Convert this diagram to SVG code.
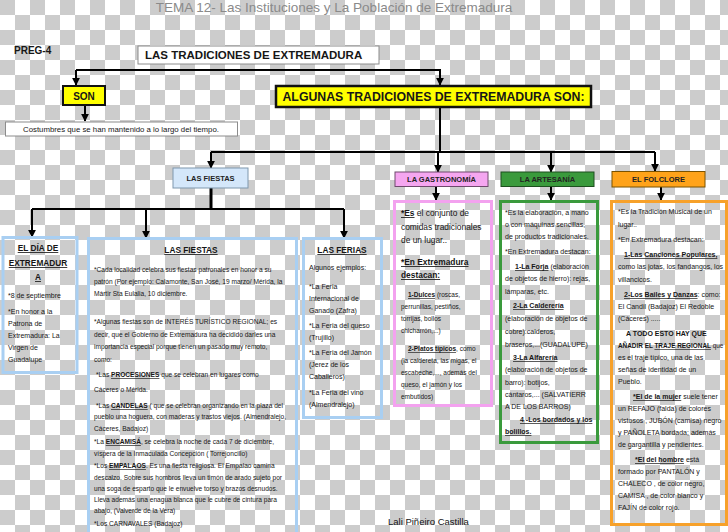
<svg xmlns="http://www.w3.org/2000/svg" width="728" height="532" viewBox="0 0 728 532">
<style>
.t{font-family:"Liberation Sans",Arial,sans-serif;fill:#161616}
.b{font-weight:bold}
.u{text-decoration:underline}
.ln{stroke:#000;stroke-width:2;fill:none}
.s66{font-size:6.6px}
.s7{font-size:7px}
.lb{stroke:#a9cff2;stroke-width:3;fill:none}
.lbl{font-family:"Liberation Sans",Arial,sans-serif;font-weight:bold;font-size:7.5px;fill:#222;text-anchor:middle}
</style>
<defs>
<marker id="ah" viewBox="0 0 10 10" refX="9" refY="5" markerWidth="4" markerHeight="4" orient="auto"><path d="M0,0L10,5L0,10z" fill="#000"/></marker>
<pattern id="chk" width="30" height="30" patternUnits="userSpaceOnUse"><rect width="30" height="30" fill="#fff"/><rect width="15" height="15" fill="#cccccc"/><rect x="15" y="15" width="15" height="15" fill="#cccccc"/></pattern>
</defs>
<rect width="728" height="532" fill="url(#chk)"/>

<text class="t" x="334" y="12" font-size="13.5" style="fill:#8a8a8a" text-anchor="middle">TEMA 12- Las Instituciones y La Población de Extremadura</text>
<text class="t b" x="14" y="54" font-size="10">PREG-4</text>

<g id="connectors">
<path class="ln" d="M76,70 H441"/>
<path class="ln" d="M76,70 V85" marker-end="url(#ah)"/>
<path class="ln" d="M440,70 V85" marker-end="url(#ah)"/>
<path class="ln" d="M85,105 V121" marker-end="url(#ah)"/>
<path class="ln" d="M440,107 V152"/>
<path class="ln" d="M211,152 H655"/>
<path class="ln" d="M211,152 V168" marker-end="url(#ah)"/>
<path class="ln" d="M438,152 V172" marker-end="url(#ah)"/>
<path class="ln" d="M551,152 V172" marker-end="url(#ah)"/>
<path class="ln" d="M655,152 V171" marker-end="url(#ah)"/>
<path class="ln" d="M211,188 V209" style="stroke-width:3"/>
<path class="ln" d="M32,209 H344"/>
<path class="ln" d="M32,209 V237" marker-end="url(#ah)"/>
<path class="ln" d="M146,209 V238" marker-end="url(#ah)"/>
<path class="ln" d="M344,209 V238" marker-end="url(#ah)"/>
<path class="ln" d="M436,187 V200" marker-end="url(#ah)"/>
<path class="ln" d="M551,187 V200" marker-end="url(#ah)"/>
<path class="ln" d="M661,187 V200" marker-end="url(#ah)"/>
</g>

<g id="tradiciones">
<rect x="138" y="46" width="241" height="18" fill="#fff" stroke="#8c8c8c" stroke-width="1"/>
<text class="t b" x="145" y="59" font-size="11.5">LAS TRADICIONES DE EXTREMADURA</text>
</g>

<g id="son">
<rect x="63" y="86" width="42" height="19" fill="#ffff00" stroke="#111" stroke-width="2"/>
<text class="t b" x="84" y="99.5" font-size="10" text-anchor="middle">SON</text>
</g>

<g id="algunas">
<rect x="276" y="86" width="315" height="21" fill="#ffff00" stroke="#111" stroke-width="2.5"/>
<text class="t b" x="433.5" y="101" font-size="12.5" text-anchor="middle" textLength="302" lengthAdjust="spacingAndGlyphs">ALGUNAS TRADICIONES DE EXTREMADURA SON:</text>
</g>

<g id="costumbres">
<rect x="5.5" y="122" width="232" height="14" fill="#fff" stroke="#8c8c8c" stroke-width="1"/>
<text class="t" x="121" y="132" font-size="7.8" text-anchor="middle">Costumbres que se han mantenido a lo largo del tiempo.</text>
</g>

<g id="lasfiestas-label">
<rect x="173" y="168" width="75" height="20" fill="#d4e7fa" stroke="#7f97ad" stroke-width="1"/>
<text class="lbl" x="210.5" y="181">LAS FIESTAS</text>
</g>

<g id="gastronomia-label">
<rect x="395" y="172" width="93" height="14.5" fill="#f5a6f0" stroke="#6e4a6c" stroke-width="1"/>
<text class="lbl" x="441.5" y="182">LA GASTRONOMÍA</text>
</g>

<g id="artesania-label">
<rect x="501" y="172" width="93" height="14.5" fill="#3a9a3c" stroke="#1d4f1e" stroke-width="1"/>
<text class="lbl" x="547.5" y="182">LA ARTESANÍA</text>
</g>

<g id="folclore-label">
<rect x="612" y="171.5" width="93" height="15.5" fill="#ffa31a" stroke="#7a5200" stroke-width="1"/>
<text class="lbl" x="658.5" y="182">EL FOLCLORE</text>
</g>

<g id="dia-extremadura">
<rect class="lb" x="3" y="237.5" width="74" height="135"/>
<text class="t b" text-anchor="middle" font-size="8.3"><tspan class="u" x="38" y="251">EL DÍA DE</tspan><tspan class="u" x="38" y="266">EXTREMADUR</tspan><tspan class="u" x="38" y="280">A</tspan></text>
<text class="t s7"><tspan x="8" y="298">*8 de septiembre</tspan><tspan x="8" y="314">*En honor a la</tspan><tspan x="8" y="326">Patrona de</tspan><tspan x="8" y="338">Extremadura: La</tspan><tspan x="8" y="350">Virgen de</tspan><tspan x="8" y="362">Guadalupe</tspan></text>
</g>

<g id="fiestas">
<rect class="lb" x="88.5" y="238.5" width="208" height="296"/>
<text class="t b u" x="191" y="253" font-size="8.3" text-anchor="middle">LAS FIESTAS</text>
<text class="t s66">
<tspan x="94" y="272">*Cada localidad celebra sus fiestas patronales en honor a su</tspan>
<tspan x="94" y="284">patrón (Por ejemplo: Calamonte, San José, 19 marzo/ Mérida, la</tspan>
<tspan x="94" y="296">Mártir Sta Eulalia,  10 diciembre.</tspan>
<tspan x="94" y="324">*Algunas fiestas  son de  INTERÉS TURÍSTICO REGIONAL; es</tspan>
<tspan x="94" y="337">decir, que el Gobierno de Extremadura ha decidido darles una</tspan>
<tspan x="94" y="349">importancia especial  porque tienen un pasado muy remoto,</tspan>
<tspan x="94" y="362">como:</tspan>
<tspan x="96" y="377">*Las </tspan><tspan class="b u">PROCESIONES</tspan><tspan>  que se celebran en lugares como</tspan>
<tspan x="94" y="392">Cáceres o Mérida.</tspan>
<tspan x="96" y="408">*Las </tspan><tspan class="b u">CANDELAS</tspan><tspan> ( que se celebran organizando en la plaza del</tspan>
<tspan x="94" y="419">pueblo una hoguera, con maderas y trastos viejos. (Almendralejo,</tspan>
<tspan x="94" y="431">Cáceres, Badajoz)</tspan>
<tspan x="94" y="444">*La </tspan><tspan class="b u">ENCAMISÁ</tspan><tspan>, se celebra la noche de cada 7 de diciembre,</tspan>
<tspan x="94" y="456">víspera de la Inmaculada Concepción   ( Torrejoncillo)</tspan>
<tspan x="94" y="468">*Los </tspan><tspan class="b u">EMPALAOS</tspan><tspan>.  Es una fiesta religiosa. El Empalao camina</tspan>
<tspan x="94" y="480">descalzo. Sobre sus hombros lleva un timón de arado sujeto por</tspan>
<tspan x="94" y="491">una soga de esparto que le envuelve torso y brazos desnudos.</tspan>
<tspan x="94" y="502">Lleva además una enagua blanca que le cubre de cintura para</tspan>
<tspan x="94" y="513">abajo, (Valverde de la Vera)</tspan>
<tspan x="94" y="526">*Los CARNAVALES (Badajoz)</tspan>
</text>
</g>

<g id="ferias">
<rect class="lb" x="303.5" y="238.5" width="78" height="179"/>
<text class="t b u" x="342" y="253" font-size="8.3" text-anchor="middle">LAS FERIAS</text>
<text class="t s7">
<tspan x="309" y="270">Algunos ejemplos:</tspan>
<tspan x="309" y="289">*La Feria</tspan>
<tspan x="309" y="301">Internacional de</tspan>
<tspan x="309" y="313">Ganado (Zafra)</tspan>
<tspan x="309" y="328">*La Feria del queso</tspan>
<tspan x="309" y="340">(Trujillo)</tspan>
<tspan x="309" y="355">*La Feria del Jamón</tspan>
<tspan x="309" y="367">(Jerez de los</tspan>
<tspan x="309" y="379">Caballeros)</tspan>
<tspan x="309" y="395">*La Feria del vino</tspan>
<tspan x="309" y="407">(Almendralejo)</tspan>
</text>
</g>

<g id="gastronomia">
<rect x="394.5" y="201.5" width="97" height="204" fill="none" stroke="#f3a2ef" stroke-width="3"/>
<text class="t" font-size="8.4">
<tspan x="401" y="216"><tspan class="b u">*Es</tspan> el conjunto de</tspan>
<tspan x="401" y="230">comidas tradicionales</tspan>
<tspan x="401" y="243">de un lugar..</tspan>
<tspan x="401" y="265" class="b u">*En Extremadura</tspan>
<tspan x="401" y="278" class="b u">destacan:</tspan>
</text>
<text class="t" font-size="6.5">
<tspan x="408" y="297"><tspan class="b u">1-Dulces</tspan> (roscas,</tspan>
<tspan x="401" y="309">perrunillas, pestiños,</tspan>
<tspan x="401" y="321">torrijas, bollos</tspan>
<tspan x="401" y="333">chicharrón,...)</tspan>
<tspan x="408" y="351"><tspan class="b u">2-Platos típicos</tspan>, como</tspan>
<tspan x="401" y="363">(la caldereta, las migas, el</tspan>
<tspan x="401" y="375">escabeche,..., además del</tspan>
<tspan x="401" y="387">queso, el jamón y los</tspan>
<tspan x="401" y="399">embutidos)</tspan>
</text>
</g>

<g id="artesania">
<rect x="500.5" y="201.5" width="97" height="241" fill="none" stroke="#3a9a3c" stroke-width="3"/>
<text class="t s7">
<tspan x="505" y="215">*Es la elaboración, a mano</tspan>
<tspan x="505" y="227">o con máquinas sencillas,</tspan>
<tspan x="505" y="239">de productos tradicionales.</tspan>
<tspan x="505" y="254">*En Extremadura destacan:</tspan>
<tspan x="515" y="269"><tspan class="b u">1-La Forja</tspan> (elaboración</tspan>
<tspan x="505" y="281">de objetos de hierro): rejas,</tspan>
<tspan x="505" y="294">lámparas, etc.</tspan>
<tspan x="513" y="308" class="b u">2-La Calderería</tspan>
<tspan x="505" y="321">(elaboración de objetos de</tspan>
<tspan x="505" y="334">cobre):calderos,</tspan>
<tspan x="505" y="347">braseros,...(GUADALUPE)</tspan>
<tspan x="513" y="360" class="b u">3-La Alfarería</tspan>
<tspan x="505" y="372">(elaboración de objetos de</tspan>
<tspan x="505" y="385">barro): botijos,</tspan>
<tspan x="505" y="397">cántaros,... (SALVATIERR</tspan>
<tspan x="505" y="409">A DE LOS BARROS)</tspan>
<tspan x="520" y="422" class="b u">4 -Los bordados y los</tspan>
<tspan x="505" y="434" class="b u">bolillos.</tspan>
</text>
</g>

<g id="folclore">
<rect x="611.5" y="201.5" width="115" height="323" fill="none" stroke="#f7a12a" stroke-width="3"/>
<text class="t s7">
<tspan x="618" y="214">*Es la Tradición Musical de un</tspan>
<tspan x="618" y="227">lugar..</tspan>
<tspan x="618" y="242">*En Extremadura destacan:</tspan>
<tspan x="624" y="257" class="b u">1-Las Canciones Populares,</tspan>
<tspan x="618" y="269">como las jotas, los fandangos, los</tspan>
<tspan x="618" y="282">villancicos.</tspan>
<tspan x="624" y="297"><tspan class="b u">2-Los Bailes y Danzas</tspan>: como:</tspan>
<tspan x="618" y="309">El Candil (Badajoz) El Redoble</tspan>
<tspan x="618" y="321">(Cáceres) .....</tspan>
<tspan x="626" y="336" class="b">A TODO ESTO HAY QUE</tspan>
<tspan x="618" y="360">es el traje típico, una de las</tspan>
<tspan x="618" y="372">señas de identidad de un</tspan>
<tspan x="618" y="384">Pueblo.</tspan>
<tspan x="633" y="399"><tspan class="b u">*El de la mujer</tspan> suele tener</tspan>
<tspan x="618" y="411">un REFAJO (falda) de colores</tspan>
<tspan x="618" y="423">vistosos , JUBÓN (camisa) negro</tspan>
<tspan x="618" y="435">y PAÑOLETA bordada; además</tspan>
<tspan x="618" y="447">de gargantilla y pendientes.</tspan>
<tspan x="635" y="462"><tspan class="b u">*El del hombre</tspan> está</tspan>
<tspan x="618" y="474">formado por PANTALÓN y</tspan>
<tspan x="618" y="486">CHALECO , de color negro,</tspan>
<tspan x="618" y="498">CAMISA , de color blanco y</tspan>
<tspan x="618" y="510">FAJÍN de color rojo.</tspan>
</text>
<text class="t" x="618" y="348" font-size="6.4"><tspan class="b">AÑADIR EL </tspan><tspan class="b u">TRAJE REGIONAL</tspan> que</text>
</g>

<text class="t" x="388" y="525" font-size="9.5">Lali  Piñeiro Castilla</text>
</svg>
